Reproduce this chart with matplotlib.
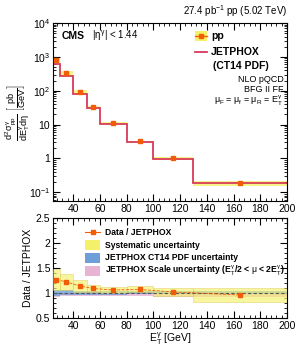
import numpy as np
import matplotlib.pyplot as plt
from matplotlib.patches import Rectangle
from matplotlib.ticker import MultipleLocator, LogLocator

plt.rcParams['font.family'] = ['Liberation Sans', 'DejaVu Sans']
plt.rcParams['mathtext.fontset'] = 'custom'
plt.rcParams['mathtext.rm'] = 'Liberation Sans'
plt.rcParams['mathtext.it'] = 'Liberation Sans'
plt.rcParams['mathtext.bf'] = 'Liberation Sans:bold'

# E_T bins (GeV)
bin_edges = [25, 30, 40, 50, 60, 80, 100, 130, 200]
# measured cross section (pb/GeV)
data_xs = [800, 330, 92, 33, 11, 3.2, 1.0, 0.185]
# data / JETPHOX ratio
ratio = [1.27, 1.22, 1.14, 1.09, 1.06, 1.07, 1.02, 0.96]
# systematic uncertainty on ratio (half width)
ratio_sys = [0.22, 0.16, 0.12, 0.08, 0.06, 0.06, 0.08, 0.14]
# JETPHOX PDF uncertainty (half width around 1)
pdf_unc = [0.06, 0.05, 0.04, 0.04, 0.04, 0.03, 0.03, 0.03]
# JETPHOX scale uncertainty (low, high around 1)
scale_lo = [0.92, 0.93, 0.93, 0.94, 0.94, 0.93, 0.92, 0.92]
scale_hi = [1.0, 1.0, 1.0, 1.0, 1.0, 1.0, 1.0, 1.0]

edges = np.array(bin_edges, dtype=float)
centers = [27.5, 35, 45, 55, 70, 90, 115, 165]
data_xs = np.array(data_xs)
ratio = np.array(ratio)
theory = data_xs / ratio
sys_abs = data_xs * np.array(ratio_sys) / ratio

orange = '#f25c05'
yellow = '#f4f06a'
red = '#d93a5a'

fig = plt.figure(figsize=(2.95, 3.49), dpi=100)
ax1 = fig.add_axes([0.18, 0.424, 0.793, 0.51])
ax2 = fig.add_axes([0.18, 0.089, 0.793, 0.286])

# top panel
for i in range(len(centers)):
    ax1.add_patch(Rectangle((edges[i], data_xs[i] - sys_abs[i]), edges[i+1] - edges[i],
                            2 * sys_abs[i], color=yellow, alpha=0.8, lw=0, zorder=1))
ax1.stairs(theory, edges, color=red, lw=1.3, baseline=None, zorder=2)
ax1.errorbar(centers, data_xs, xerr=None, fmt='s', color=orange, ms=3.5, zorder=3)
ax1.set_yscale('log')
ax1.set_xlim(25, 200)
ax1.set_ylim(0.055, 1e4)
ax1.xaxis.set_major_locator(MultipleLocator(20))
ax1.xaxis.set_minor_locator(MultipleLocator(4))
ax1.yaxis.set_minor_locator(LogLocator(subs=np.arange(2, 10)))
ax1.tick_params(which='both', direction='in', top=True, right=True, labelsize=7.5, pad=2)
ax1.tick_params(which='major', length=5)
ax1.tick_params(which='minor', length=2.5)
ax1.set_yticks([0.1, 1, 10, 100, 1000, 10000])
ax1.set_yticklabels([r'$10^{-1}$', '1', '10', r'$10^{2}$', r'$10^{3}$', r'$10^{4}$'])
ax1.set_ylabel(r'$\dfrac{d^2\sigma^{\gamma}_{pp}}{dE_T^{\gamma}d\eta}$ $\left[\dfrac{pb}{GeV}\right]$',
               fontsize=6.6)
ax1.yaxis.set_label_coords(-0.092, 0.5)
ax1.text(0.035, 0.927, 'CMS', transform=ax1.transAxes, fontsize=7.5, weight='bold', va='center')
ax1.text(0.165, 0.927, r'|$\eta^{\gamma}$| < 1.44', transform=ax1.transAxes, fontsize=7, va='center')
ax1.text(1.0, 1.02, r'27.4 pb$^{-1}$ pp (5.02 TeV)', transform=ax1.transAxes, fontsize=7,
         ha='right', va='bottom')

# legend top
ax1.add_patch(Rectangle((0.605, 0.9), 0.055, 0.055, transform=ax1.transAxes, color=yellow, lw=0))
ax1.plot([0.605, 0.66], [0.927, 0.927], transform=ax1.transAxes, color=orange, lw=1)
ax1.plot([0.6325], [0.927], 's', transform=ax1.transAxes, color=orange, ms=3.5)
ax1.text(0.675, 0.927, 'pp', transform=ax1.transAxes, fontsize=7.5, weight='bold', va='center')
ax1.plot([0.605, 0.66], [0.837, 0.837], transform=ax1.transAxes, color=red, lw=1.3)
ax1.text(0.675, 0.837, 'JETPHOX', transform=ax1.transAxes, fontsize=7.5, weight='bold', va='center')
ax1.text(0.685, 0.76, '(CT14 PDF)', transform=ax1.transAxes, fontsize=7.5, weight='bold', va='center')
ax1.text(0.985, 0.683, 'NLO pQCD', transform=ax1.transAxes, fontsize=6.5, ha='right', va='center')
ax1.text(0.985, 0.628, 'BFG II FF', transform=ax1.transAxes, fontsize=6.5, ha='right', va='center')
ax1.text(0.985, 0.565, r'$\mu_F$ = $\mu_f$ = $\mu_R$ = E$_T^{\gamma}$', transform=ax1.transAxes,
         fontsize=6.5, ha='right', va='center')

# bottom panel
for i in range(len(centers)):
    w = edges[i+1] - edges[i]
    ax2.add_patch(Rectangle((edges[i], scale_lo[i]), w, scale_hi[i] - scale_lo[i],
                            color='#e8b4d4', alpha=0.8, lw=0, zorder=1))
    ax2.add_patch(Rectangle((edges[i], 1 - pdf_unc[i]), w, 2 * pdf_unc[i],
                            color='#6f9fd8', alpha=0.8, lw=0, zorder=2))
    ax2.add_patch(Rectangle((edges[i], ratio[i] - ratio_sys[i]), w, 2 * ratio_sys[i],
                            facecolor=yellow, edgecolor='#d8c040', alpha=0.65, lw=0.4, zorder=3))
ax2.axhline(1, color='#555555', ls='--', lw=0.8, dashes=(3, 2), zorder=4)
ax2.plot(centers, ratio, 's--', color=orange, ms=3.5, lw=0.6, zorder=5)
ax2.set_xlim(25, 200)
ax2.set_ylim(0.5, 2.5)
ax2.xaxis.set_major_locator(MultipleLocator(20))
ax2.xaxis.set_minor_locator(MultipleLocator(4))
ax2.yaxis.set_major_locator(MultipleLocator(0.5))
ax2.yaxis.set_minor_locator(MultipleLocator(0.1))
ax2.set_yticks([0.5, 1, 1.5, 2, 2.5])
ax2.set_yticklabels(['0.5', '1', '1.5', '2', '2.5'])
ax2.tick_params(which='both', direction='in', top=True, right=True, labelsize=7.5, pad=2)
ax2.tick_params(which='major', length=5)
ax2.tick_params(which='minor', length=2.5)
ax2.set_ylabel('Data / JETPHOX', fontsize=7.5, labelpad=2)
ax2.set_xlabel(r'E$_T^{\gamma}$ [GeV]', fontsize=7.5, labelpad=0)

# legend bottom
lx = 0.137
ax2.plot([lx, lx + 0.063], [0.86, 0.86], transform=ax2.transAxes, color=orange, lw=0.8)
ax2.plot([lx + 0.0315], [0.86], 's', transform=ax2.transAxes, color=orange, ms=3.5)
ax2.text(lx + 0.083, 0.86, 'Data / JETPHOX', transform=ax2.transAxes, fontsize=6.2,
         weight='bold', va='center')
for y, c, label in [(0.73, yellow, 'Systematic uncertainty'),
                    (0.605, '#6f9fd8', 'JETPHOX CT14 PDF uncertainty'),
                    (0.47, '#e8b4d4', r'JETPHOX Scale uncertainty (E$_T^{\gamma}$/2 < $\mu$ < 2E$_T^{\gamma}$)')]:
    ax2.add_patch(Rectangle((lx, y - 0.05), 0.063, 0.1, transform=ax2.transAxes, color=c, lw=0))
    ax2.text(lx + 0.083, y, label, transform=ax2.transAxes, fontsize=6.2, weight='bold', va='center')

plt.savefig('out.png', dpi=100)
